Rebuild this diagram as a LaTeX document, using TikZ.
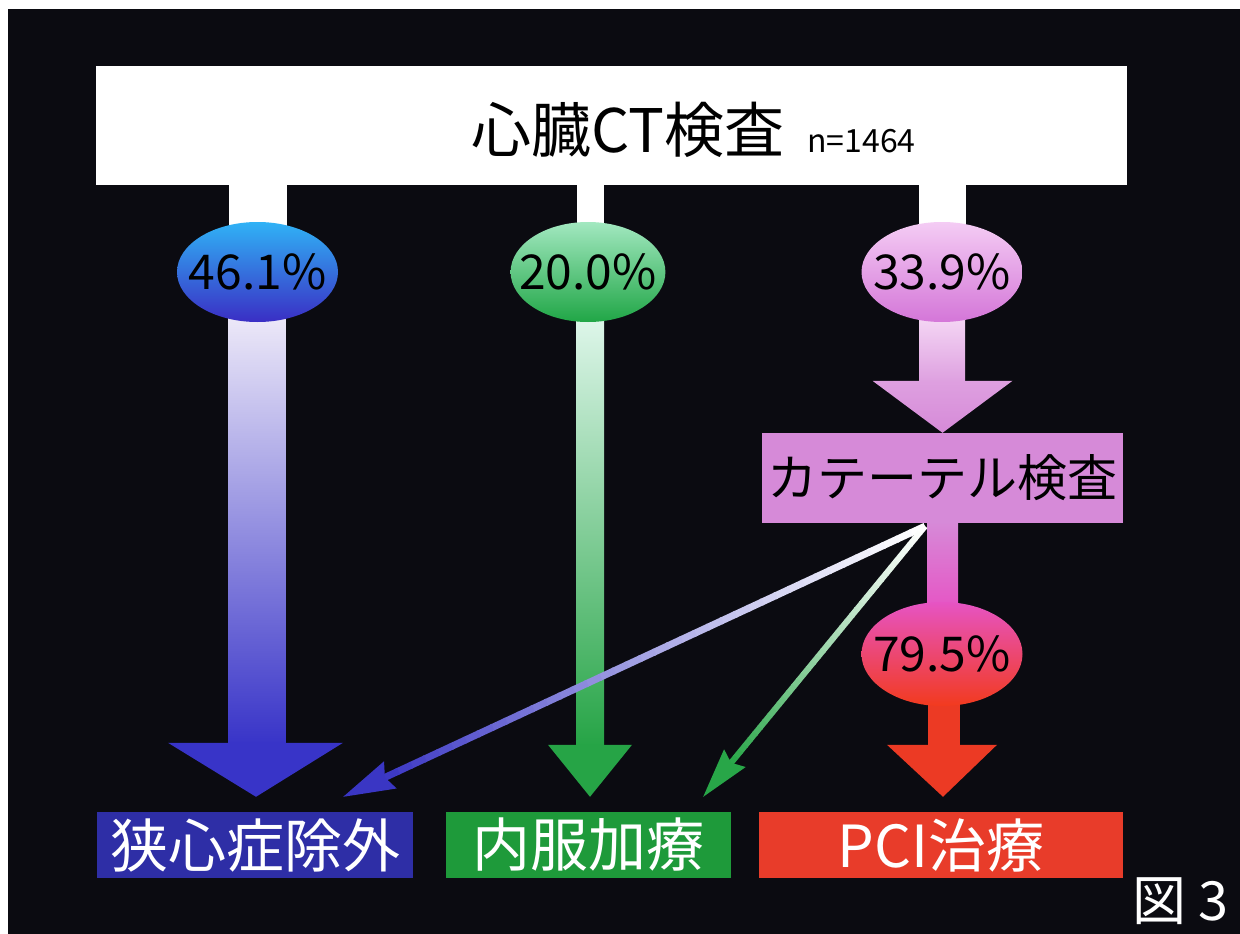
\documentclass[tikz,border=0pt]{standalone}
\usepackage{fontspec}
\setmainfont{Noto Sans CJK JP}
\usetikzlibrary{shapes.geometric,calc}
\pgfdeclarelayer{canvas}
\pgfdeclarelayer{under}
\pgfsetlayers{canvas,under,main}
\definecolor{bgc}{RGB}{11,11,17}
\definecolor{blueA}{RGB}{48,178,246}
\definecolor{blueB}{RGB}{58,46,196}
\definecolor{lavtop}{RGB}{236,232,248}
\definecolor{blueS}{RGB}{56,52,200}
\definecolor{boxblue}{RGB}{46,46,166}
\definecolor{greenA}{RGB}{162,232,192}
\definecolor{greenB}{RGB}{32,166,70}
\definecolor{greentop}{RGB}{222,246,234}
\definecolor{greenS}{RGB}{38,164,70}
\definecolor{boxgreen}{RGB}{30,154,58}
\definecolor{pinkA}{RGB}{244,204,244}
\definecolor{pinkB}{RGB}{212,118,216}
\definecolor{pinktop}{RGB}{244,214,244}
\definecolor{pinkmid}{RGB}{222,160,224}
\definecolor{catc}{RGB}{214,138,216}
\definecolor{eA}{RGB}{230,84,196}
\definecolor{eB}{RGB}{242,58,30}
\definecolor{redc}{RGB}{236,58,36}
\definecolor{boxred}{RGB}{232,60,42}
\definecolor{diagblue}{RGB}{58,54,196}
\definecolor{diaggreen}{RGB}{40,166,72}
\tikzset{
  pct/.style={ellipse, inner xsep=-14pt, inner ysep=0pt, minimum width=161pt, minimum height=100pt,
    text=black, font=\fontsize{48}{50}\selectfont},
  endbox/.style={rectangle, inner sep=0pt, minimum height=66pt, text=white,
    font=\fontsize{58}{60}\selectfont},
}
\begin{document}
\begin{tikzpicture}[x=1pt,y=-1pt]
\useasboundingbox (0,0) rectangle (1240,934);
\begin{pgfonlayer}{canvas}
  \fill[white] (0,0) rectangle (1240,934);
  \fill[bgc] (8,9) rectangle (1240,934);
\end{pgfonlayer}

% nodes
\node[fill=white, minimum width=1031pt, minimum height=119pt, inner sep=0pt] (top) at (611.5,125.5) {};
\node[anchor=base, inner sep=0pt, text=black, font=\fontsize{60}{62}\selectfont] (title) at (628,152) {心臓CT検査};
\node[anchor=base west, inner sep=0pt, text=black, font=\fontsize{32}{34}\selectfont] (nn) at (807,152) {n=1464};

\node[pct, top color=blueA, bottom color=blueB] (e1) at (257.5,272) {46.1\%};
\node[pct, minimum width=152pt, top color=greenA, bottom color=greenB] (e2) at (588,272) {20.0\%};
\node[pct, top color=pinkA, bottom color=pinkB] (e3) at (942,272) {33.9\%};
\node[fill=catc, minimum width=361pt, minimum height=90pt, inner sep=0pt, text=black,
  font=\fontsize{50}{52}\selectfont] (cat) at (942.5,478) {カテーテル検査};
\node[pct, minimum height=104pt, top color=eA, bottom color=eB] (e4) at (942,654) {79.5\%};
\node[endbox, fill=boxblue, minimum width=316pt] (b1) at (255,845) {狭心症除外};
\node[endbox, fill=boxgreen, minimum width=285pt] (b2) at (588.5,845) {内服加療};
\node[endbox, fill=boxred, minimum width=364pt] (b3) at (941,845) {PCI治療};
\node[anchor=base east, inner sep=0pt, text=white, font=\fontsize{54}{56}\selectfont] (fig) at (1229,920) {図 3};

% tips
\coordinate (t1) at ($(b1.north)+(1,-15)$);
\coordinate (t2) at ($(b2.north)+(1.5,-15)$);
\coordinate (t3) at (cat.north);
\coordinate (t4) at ($(b3.north)+(2,-15)$);

\begin{pgfonlayer}{under}
  % white stems from the top box
  \fill[white] ($(e1.center |- top.south)+(-29,-2)$) rectangle ($(e1.center)+(29,0)$);
  \fill[white] ($(e2.center |- top.south)+(-11.5,-2)$) rectangle ($(e2.center)+(16,0)$);
  \fill[white] ($(e3.center |- top.south)+(-23,-2)$) rectangle ($(e3.center)+(24,0)$);
  % left arrow
  \shade[top color=lavtop, bottom color=blueS] ($(e1.south)+(-29.5,-4)$) rectangle ($(t1)+(29.5,-53)$);
  \fill[blueS] ($(t1)+(-88,-54)$) -- ($(t1)+(87,-54)$) -- (t1) -- cycle;
  % middle arrow
  \shade[top color=greentop, bottom color=greenS] ($(t2 |- e2.south)+(-14,-4)$) rectangle ($(t2)+(14,-51)$);
  \fill[greenS] ($(t2)+(-42,-52)$) -- ($(t2)+(42,-52)$) -- (t2) -- cycle;
  % pink arrow to catheter box
  \shade[top color=pinktop, bottom color=pinkmid] ($(e3.south)+(-22.5,-4)$) rectangle ($(t3)+(22.5,-51)$);
  \shade[top color=pinkmid, bottom color=catc] ($(t3)+(-70,-52)$) -- ($(t3)+(70,-52)$) -- (t3) -- cycle;
  % catheter box to 79.5%
  \shade[top color=catc, bottom color=eA] ($(cat.south)+(-15,-2)$) rectangle ($(e4.north)+(16,8)$);
  % red arrow
  \fill[redc] ($(e4.south)+(-14.5,-6)$) rectangle ($(t4)+(16.5,-51)$);
  \fill[redc] ($(t4)+(-56,-52)$) -- ($(t4)+(54,-52)$) -- (t4) -- cycle;
\end{pgfonlayer}

% diagonal arrows from the catheter box
\coordinate (ds) at ($(cat.south)+(-17.5,3)$);
\coordinate (bt) at ($(b1.north east)+(-70,-15)$);
\coordinate (gt) at ($(b2.north east)+(-28,-15)$);
\coordinate (bh) at ($(bt)!46pt!(ds)$);
\coordinate (gh) at ($(gt)!44pt!(ds)$);
\foreach \i in {0,...,39}{
  \pgfmathsetmacro\ta{\i/40}
  \pgfmathsetmacro\tb{(\i+1)/40+0.003}
  \pgfmathsetmacro\pc{100*((\i+0.5)/40)^1.2}
  \draw[line width=7pt, draw=diagblue!\pc!white] ($(ds)!\ta!(bh)$) -- ($(ds)!\tb!(bh)$);
  \draw[line width=6pt, draw=diaggreen!\pc!white] ($(ds)!\ta!(gh)$) -- ($(ds)!\tb!(gh)$);
}
\fill[diagblue] (bt) -- ($($(bt)!52pt!(ds)$)!15pt!90:(bt)$) -- (bh) -- ($($(bt)!52pt!(ds)$)!15pt!-90:(bt)$) -- cycle;
\fill[diaggreen] (gt) -- ($($(gt)!50pt!(ds)$)!14pt!90:(gt)$) -- (gh) -- ($($(gt)!50pt!(ds)$)!14pt!-90:(gt)$) -- cycle;
\end{tikzpicture}
\end{document}
